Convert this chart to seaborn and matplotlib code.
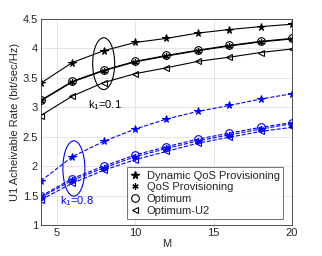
import numpy as np
import pandas as pd
import matplotlib
matplotlib.use('Agg')
import matplotlib.pyplot as plt
from matplotlib.lines import Line2D
from matplotlib.patches import Ellipse
import seaborn as sns

M = [4, 6, 8, 10, 12, 14, 16, 18, 20]

# k1 = 0.1 (black)
dyn_01 = [3.41, 3.76, 3.96, 4.10, 4.17, 4.26, 4.32, 4.37, 4.41]
qos_01 = [3.11, 3.43, 3.62, 3.77, 3.87, 3.96, 4.04, 4.11, 4.16]
opt_01 = [3.12, 3.44, 3.63, 3.78, 3.88, 3.97, 4.05, 4.12, 4.17]
u2_01 = [2.86, 3.19, 3.42, 3.57, 3.67, 3.78, 3.85, 3.93, 3.99]

# k1 = 0.8 (blue)
dyn_08 = [1.75, 2.16, 2.42, 2.63, 2.80, 2.93, 3.03, 3.14, 3.23]
qos_08 = [1.47, 1.76, 1.97, 2.16, 2.30, 2.43, 2.53, 2.63, 2.72]
opt_08 = [1.49, 1.79, 2.00, 2.19, 2.33, 2.46, 2.56, 2.66, 2.74]
u2_08 = [1.43, 1.71, 1.93, 2.11, 2.25, 2.39, 2.49, 2.59, 2.66]

labels = ['Dynamic QoS Provisioning', 'QoS Provisioning', 'Optimum', 'Optimum-U2']

sns.set_style('whitegrid')
plt.rcParams['font.family'] = ['Liberation Sans', 'DejaVu Sans']
plt.rcParams['mathtext.fontset'] = 'custom'
plt.rcParams['mathtext.rm'] = 'Liberation Sans'
plt.rcParams['mathtext.it'] = 'Liberation Sans'

fig = plt.figure(figsize=(3.22, 2.56), dpi=100)
ax = fig.add_axes([0.127, 0.121, 0.78, 0.805])

asterisk = (6, 2, 0)
styles = [
    ('*', dict(markersize=5.5)),
    (asterisk, dict(markersize=4.5, markeredgewidth=0.9)),
    ('o', dict(markersize=5.5, markerfacecolor='none', markeredgewidth=0.8)),
    ('<', dict(markersize=4.2, markerfacecolor='none', markeredgewidth=0.8)),
]

groups = [
    ([dyn_01, qos_01, opt_01, u2_01], 'black', '-'),
    ([dyn_08, qos_08, opt_08, u2_08], 'blue', '--'),
]

for series, color, ls in groups:
    for vals, (mk, kw) in zip(series, styles):
        df = pd.DataFrame({'M': M, 'rate': vals})
        sns.lineplot(data=df, x='M', y='rate', ax=ax, color=color, linestyle=ls,
                     linewidth=0.8, marker=mk, markeredgecolor=color, **kw)

ax.add_patch(Ellipse((8, 3.74), 1.4, 0.88, fill=False, edgecolor='black', linewidth=0.8))
ax.add_patch(Ellipse((6.1, 1.96), 1.4, 0.94, fill=False, edgecolor='blue', linewidth=0.8))
ax.text(7.0, 2.98, 'k$_1$=0.1', fontsize=8, color='black')
ax.text(5.2, 1.36, 'k$_1$=0.8', fontsize=8, color='blue')

ax.set_xlim(4, 20)
ax.set_ylim(1, 4.5)
ax.set_xticks([5, 10, 15, 20])
ax.set_yticks([1, 1.5, 2, 2.5, 3, 3.5, 4, 4.5])
ax.set_yticklabels(['1', '1.5', '2', '2.5', '3', '3.5', '4', '4.5'])
ax.set_xlabel('M', fontsize=8, labelpad=1)
ax.set_ylabel('U1 Acheivable Rate (bit/sec/Hz)', fontsize=8, labelpad=2)
ax.tick_params(labelsize=8, direction='in', length=2, pad=2, color='#444444')
ax.grid(color='#e0e0e0', linewidth=0.6)
for s in ax.spines.values():
    s.set_color('#333333')
    s.set_linewidth(0.6)

handles = []
for mk, kw in styles:
    handles.append(Line2D([], [], color='black', linestyle='none', marker=mk,
                          markeredgecolor='black', **kw))
leg = ax.legend(handles, labels, loc='lower right', bbox_to_anchor=(0.965, 0.03),
                fontsize=8, frameon=True, fancybox=False, handlelength=0.9,
                handletextpad=0.6, borderpad=0.3, labelspacing=0.15, borderaxespad=0)
leg.get_frame().set_edgecolor('#333333')
leg.get_frame().set_linewidth(0.6)

fig.savefig('out.png', dpi=100)
